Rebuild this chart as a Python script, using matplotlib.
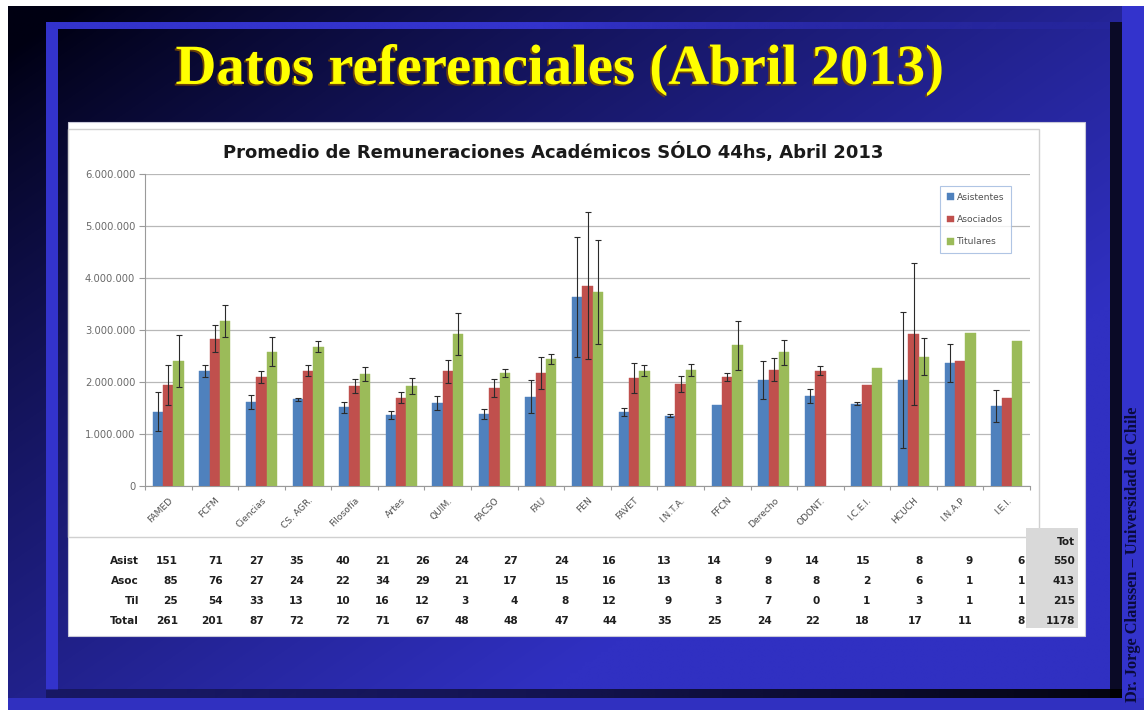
import numpy as np
import matplotlib
matplotlib.use("Agg")
import matplotlib.pyplot as plt
from matplotlib.patches import Rectangle
from matplotlib.ticker import FuncFormatter, FixedLocator, MultipleLocator
import matplotlib.patheffects as pe

# ---------------- data ----------------
categories = ["FAMED", "FCFM", "Ciencias", "CS. AGR.", "Filosofía", "Artes", "QUIM.",
              "FACSO", "FAU", "FEN", "FAVET", "I.N.T.A.", "FFCN", "Derecho", "ODONT.",
              "I.C.E.I.", "HCUCH", "I.N.A.P", "I.E.I."]
series_names = ["Asistentes", "Asociados", "Titulares"]

asistentes = [1430000, 2210000, 1620000, 1670000, 1510000, 1370000, 1600000, 1380000, 1720000,
              3630000, 1420000, 1350000, 1560000, 2040000, 1730000, 1580000, 2040000, 2370000, 1540000]
asistentes_err = [370000, 120000, 130000, 30000, 100000, 80000, 140000, 100000, 320000,
                  1150000, 80000, 30000, 0, 360000, 140000, 30000, 1310000, 370000, 310000]
asociados = [1940000, 2830000, 2100000, 2220000, 1920000, 1700000, 2210000, 1880000, 2170000,
             3850000, 2070000, 1960000, 2090000, 2240000, 2220000, 1940000, 2920000, 2410000, 1700000]
asociados_err = [380000, 260000, 110000, 110000, 140000, 100000, 220000, 170000, 310000,
                 1410000, 290000, 160000, 80000, 230000, 80000, 0, 1370000, 0, 0]
titulares = [2400000, 3170000, 2580000, 2680000, 2150000, 1920000, 2920000, 2170000, 2440000,
             3740000, 2220000, 2230000, 2710000, 2570000, np.nan, 2260000, 2490000, 2950000, 2790000]
titulares_err = [500000, 310000, 280000, 100000, 130000, 160000, 400000, 80000, 100000,
                 1000000, 100000, 120000, 470000, 240000, np.nan, 0, 350000, 0, 0]

row_labels = ["Asist", "Asoc", "Til", "Total"]
n_asist = [151, 71, 27, 35, 40, 21, 26, 24, 27, 24, 16, 13, 14, 9, 14, 15, 8, 9, 6]
n_asoc = [85, 76, 27, 24, 22, 34, 29, 21, 17, 15, 16, 13, 8, 8, 8, 2, 6, 1, 1]
n_til = [25, 54, 33, 13, 10, 16, 12, 3, 4, 8, 12, 9, 3, 7, 0, 1, 3, 1, 1]
n_total = [261, 201, 87, 72, 72, 71, 67, 48, 48, 47, 44, 35, 25, 24, 22, 18, 17, 11, 8]
tot_header = "Tot"
tot_values = [550, 413, 215, 1178]

slide_title = "Datos referenciales (Abril 2013)"
chart_title = "Promedio de Remuneraciones Académicos SÓLO 44hs, Abril 2013"
side_text = "Dr. Jorge Claussen – Universidad de Chile"

colors = ["#4F81BD", "#C0504D", "#9BBB59"]

# ---------------- layout (pixels) ----------------
W, H = 1144, 710
fig = plt.figure(figsize=(W / 100, H / 100), dpi=100)
fig.patch.set_facecolor("white")
renderer = fig.canvas.get_renderer()


def fit(txt, target, vertical=False):
    """scale a text's font size so that its extent matches target pixels"""
    for _ in range(3):
        bb = txt.get_window_extent(renderer=renderer)
        cur = bb.height if vertical else bb.width
        txt.set_fontsize(txt.get_fontsize() * target / cur)


bg = fig.add_axes([0, 0, 1, 1])
bg.set_xlim(0, W)
bg.set_ylim(H, 0)
bg.axis("off")

# gradient background of the slide
gx, gy = np.meshgrid(np.linspace(0, 1, 300), np.linspace(0, 1, 200))
s = (gx + 0.9 * gy) / 1.9
t = np.clip((s - 0.03) / 0.68, 0, 1) ** 0.85
dark = np.array([0x00, 0x00, 0x12]) / 255.0
blue = np.array([0x30, 0x30, 0xC2]) / 255.0
img = dark[None, None, :] * (1 - t[..., None]) + blue[None, None, :] * t[..., None]
bg.imshow(img, extent=(8, W, H, 6), aspect="auto", interpolation="bilinear", zorder=0)

# frame: bright blue top/left bands
bg.add_patch(Rectangle((46, 22), 12, 668, color="#3333CC", lw=0, zorder=1))
top_band = np.ones((1, 200, 4))
top_band[..., :3] = np.array([0x33, 0x33, 0xCC]) / 255.0
top_band[..., 3] = np.clip(np.linspace(1.8, 0.1, 200), 0, 1)
bg.imshow(top_band, extent=(46, 1110, 29, 22), aspect="auto", interpolation="bilinear", zorder=1)
# dark shadow bands right / bottom
bg.add_patch(Rectangle((1110, 22), 12, 676, color="#0A0A26", lw=0, zorder=1))
bot_band = np.zeros((1, 200, 4))
bot_band[..., 3] = np.linspace(0.3, 0.92, 200)
bg.imshow(bot_band, extent=(46, 1122, 698, 689), aspect="auto", interpolation="bilinear", zorder=1)
# bright blue outer strips
bg.add_patch(Rectangle((1122, 6), 22, 704, color="#3333CC", lw=0, zorder=1))
bg.add_patch(Rectangle((8, 698), 1136, 12, color="#3030C0", lw=0, zorder=1))

# slide title
st = bg.text(560, 70, slide_title, ha="center", va="center", color="#FFFF00",
             fontsize=40, fontweight="bold", family="Liberation Serif", zorder=3,
             path_effects=[pe.withSimplePatchShadow(offset=(-1.2, -1.2), shadow_rgbFace="#7A4A00",
                                                    alpha=0.9)])
fit(st, 770)

# side vertical text
sd = bg.text(1133, 554, side_text, rotation=90, ha="center", va="center", color="#0A0A3A",
             fontsize=10, fontweight="bold", family="Liberation Serif", zorder=3)
fit(sd, 296, vertical=True)

# white panel
bg.add_patch(Rectangle((68, 122), 1017, 514, facecolor="white", edgecolor="#C8C8D8", lw=0.8, zorder=2))
# chart border
bg.add_patch(Rectangle((68, 129), 971, 408, facecolor="none", edgecolor="#D0D0D0", lw=1.0, zorder=3))
# Tot column shading
bg.add_patch(Rectangle((1026, 528), 52, 100, facecolor="#D9D9D9", edgecolor="none", zorder=3))

# chart title
ct = bg.text(553, 152, chart_title, ha="center", va="center", color="#1A1A1A",
             fontsize=13, fontweight="bold", family="DejaVu Sans", zorder=4)
fit(ct, 660)

# ---------------- chart axes ----------------
x0, x1, y0, y1 = 145, 1030, 174, 486
ax = fig.add_axes([x0 / W, (H - y1) / H, (x1 - x0) / W, (y1 - y0) / H], zorder=5)
ax.set_facecolor("none")

x = np.arange(len(categories))
bw = 0.222
vals = [asistentes, asociados, titulares]
errs = [asistentes_err, asociados_err, titulares_err]
for i, (v, e, c, name) in enumerate(zip(vals, errs, colors, series_names)):
    v = np.array(v, dtype=float)
    e = np.array(e, dtype=float)
    xi = x + (i - 1) * bw
    ax.bar(xi, v, width=bw, color=c, edgecolor=c, linewidth=0.3, label=name, zorder=3)
    m = np.isfinite(e) & (e > 0)
    ax.errorbar(xi[m], v[m], yerr=e[m], fmt="none", ecolor="#2B2B2B", elinewidth=0.8,
                capsize=2.2, capthick=0.8, zorder=4)

ax.set_xlim(-0.5, len(categories) - 0.5)
ax.set_ylim(0, 6000000)
ax.yaxis.set_major_locator(MultipleLocator(1000000))
ax.yaxis.set_major_formatter(FuncFormatter(lambda v, p: f"{int(v):,}".replace(",", ".")))
ax.grid(axis="y", color="#B8B8B8", linewidth=0.9, zorder=0)
ax.set_axisbelow(True)
for sp in ["top", "right"]:
    ax.spines[sp].set_visible(False)
ax.spines["left"].set_color("#9A9A9A")
ax.spines["bottom"].set_color("#9A9A9A")
ax.tick_params(axis="y", length=4, width=0.8, color="#9A9A9A", labelsize=7.2,
               labelcolor="#6A6A6A", pad=3)
ax.set_xticks(x)
ax.set_xticklabels(categories, rotation=45, ha="right", rotation_mode="anchor",
                   fontsize=6.6, color="#505050")
ax.tick_params(axis="x", which="major", length=0, pad=7)
ax.xaxis.set_minor_locator(FixedLocator(np.arange(-0.5, len(categories), 1.0)))
ax.tick_params(axis="x", which="minor", length=3, width=0.8, color="#9A9A9A")

leg = ax.legend(loc="upper left", bbox_to_anchor=(940 / W, (H - 186) / H),
                bbox_transform=fig.transFigure, fontsize=6.6, frameon=True,
                fancybox=False, edgecolor="#9DB7DE", handlelength=0.75, handleheight=0.75,
                handletextpad=0.35, labelspacing=1.45, borderpad=0.75, borderaxespad=0)
leg.get_frame().set_linewidth(0.8)
for tx in leg.get_texts():
    tx.set_color("#505050")

# ---------------- table ----------------
col_right = [178, 223, 264, 304, 350, 390, 430, 469, 518, 569, 617, 672, 722, 772, 820,
             870, 923, 973, 1025]
row_y = [561, 581, 601, 621]
rows = [n_asist, n_asoc, n_til, n_total]
tfont = dict(fontsize=7.6, fontweight="bold", color="#1E1E1E", family="DejaVu Sans",
             va="center", zorder=6)
for lab, ry, rvals, tv in zip(row_labels, row_y, rows, tot_values):
    bg.text(139, ry, lab, ha="right", **tfont)
    for cx, v in zip(col_right, rvals):
        bg.text(cx, ry, str(v), ha="right", **tfont)
    bg.text(1075, ry, str(tv), ha="right", **tfont)
bg.text(1075, 542, tot_header, ha="right", **tfont)

fig.savefig("out.png", dpi=100, facecolor=fig.get_facecolor())
